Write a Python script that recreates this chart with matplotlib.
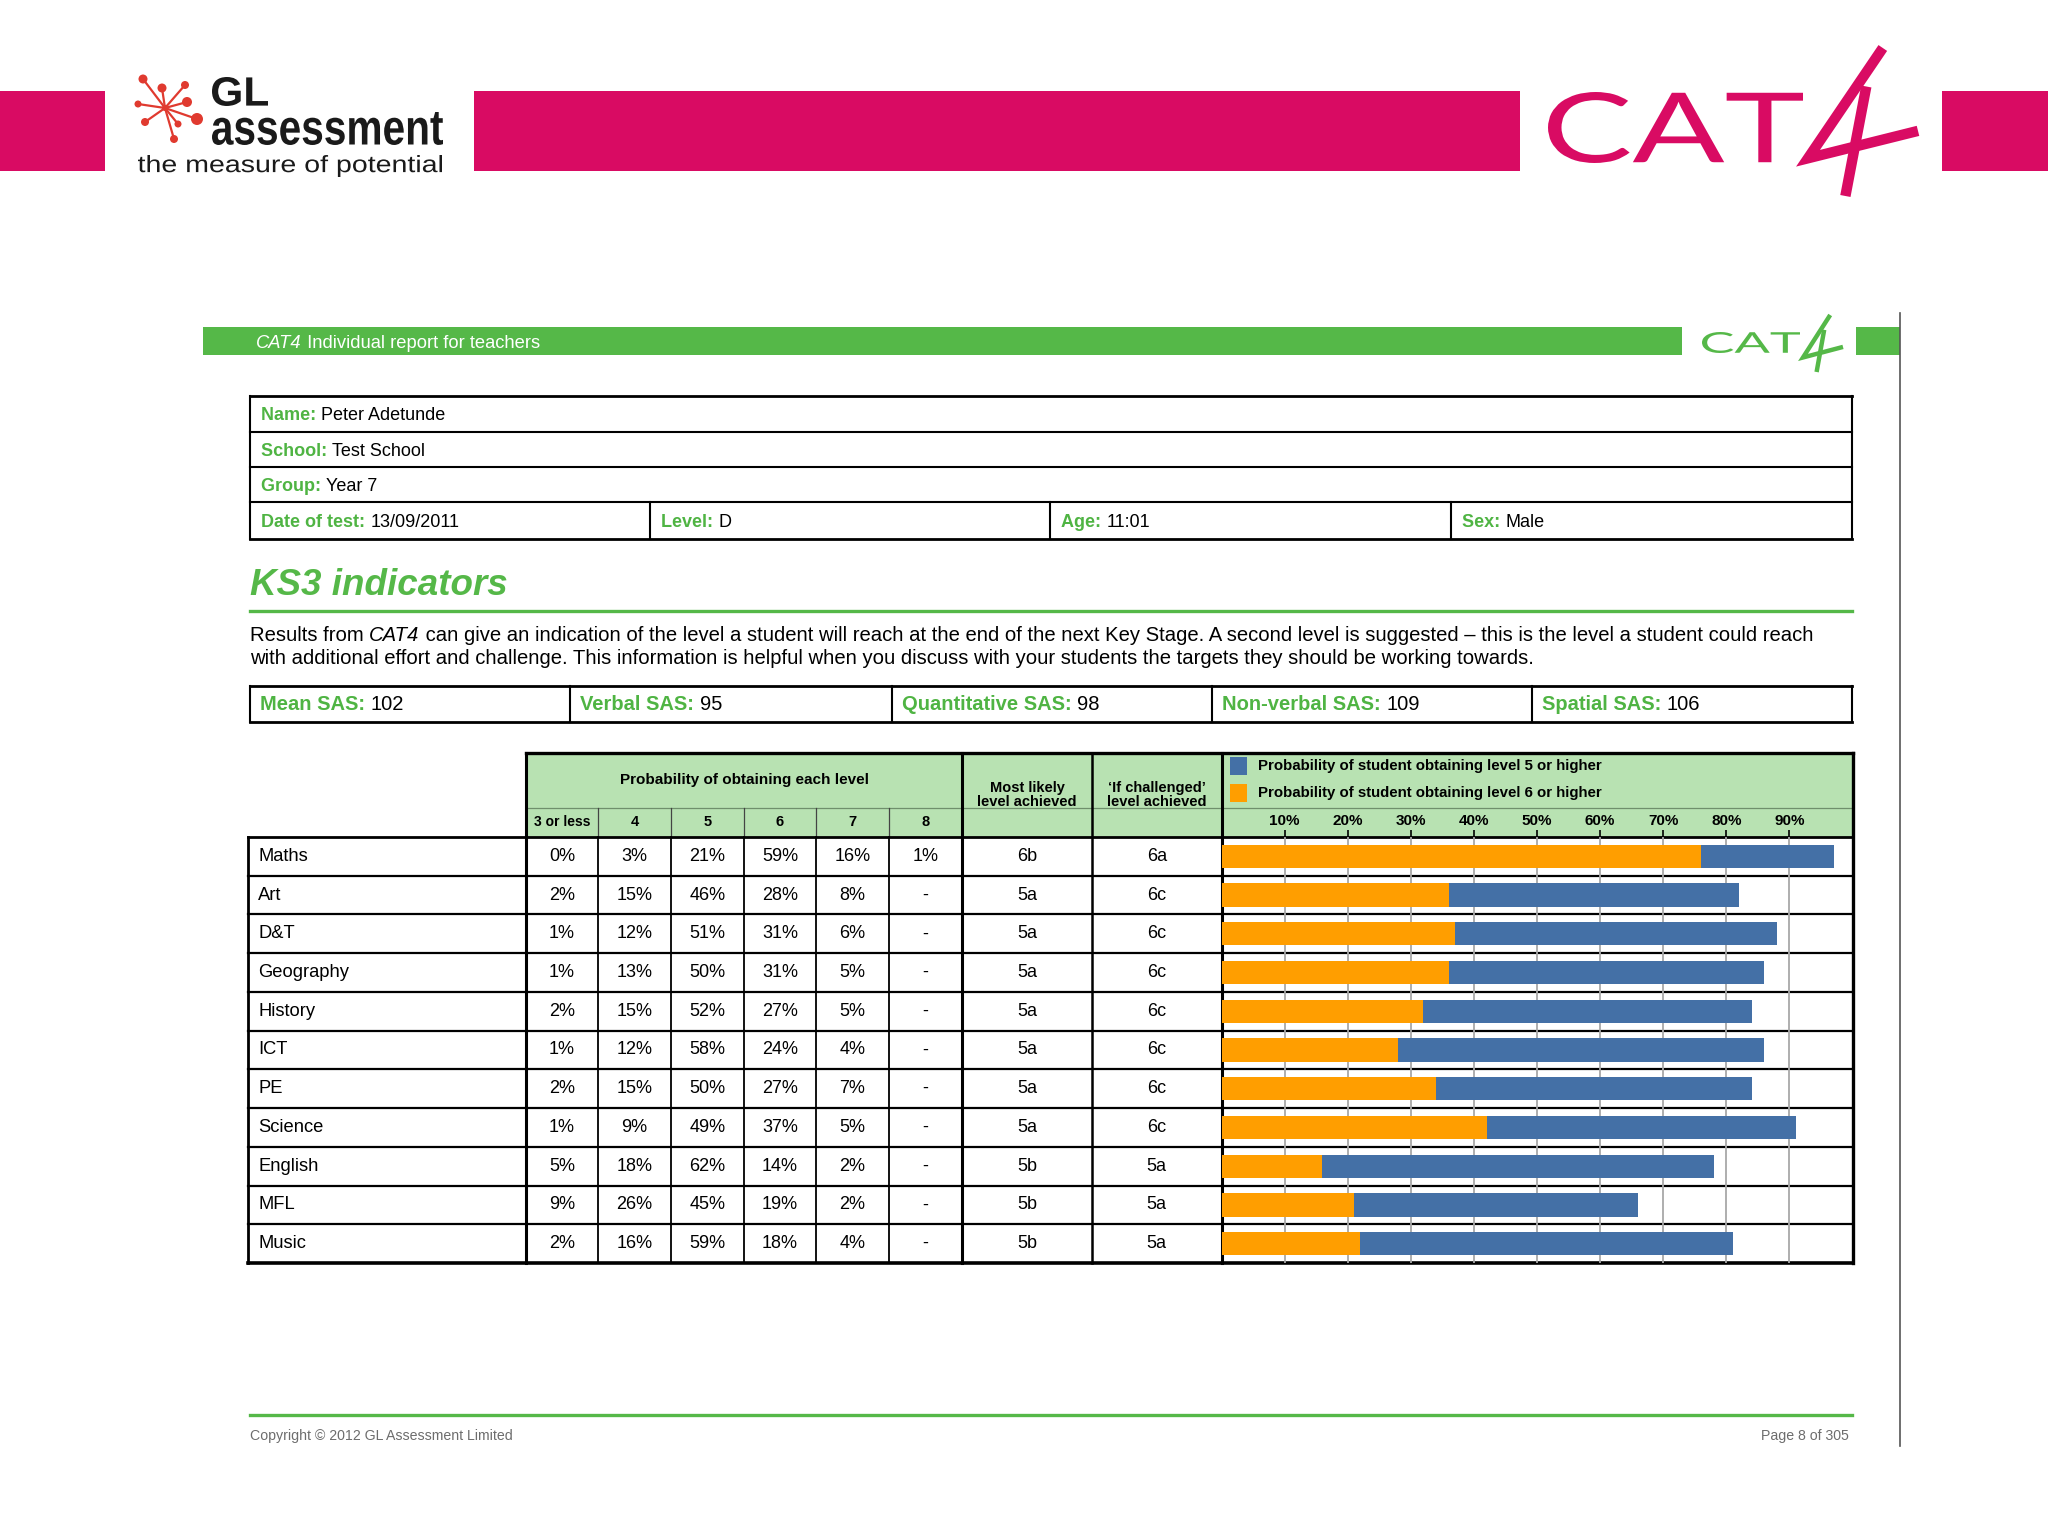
import matplotlib
matplotlib.use('Agg')
import matplotlib.pyplot as plt
from matplotlib.textpath import TextPath
from matplotlib.patches import PathPatch, Rectangle, Circle
from matplotlib.font_manager import FontProperties
from matplotlib.transforms import Affine2D
import numpy as np

plt.rcParams['font.family'] = ['Liberation Sans', 'DejaVu Sans']

# ---------------- data ----------------
student_name = 'Peter Adetunde'
school = 'Test School'
group = 'Year 7'
date_of_test = '13/09/2011'
level = 'D'
age = '11:01'
sex = 'Male'
sas_labels = ['Mean SAS:', 'Verbal SAS:', 'Quantitative SAS:', 'Non-verbal SAS:', 'Spatial SAS:']
sas_values = [102, 95, 98, 109, 106]

subjects = ['Maths', 'Art', 'D&T', 'Geography', 'History', 'ICT', 'PE', 'Science', 'English', 'MFL', 'Music']
level_cols = ['3 or less', '4', '5', '6', '7', '8']
p_3orless = [0, 2, 1, 1, 2, 1, 2, 1, 5, 9, 2]
p_4 = [3, 15, 12, 13, 15, 12, 15, 9, 18, 26, 16]
p_5 = [21, 46, 51, 50, 52, 58, 50, 49, 62, 45, 59]
p_6 = [59, 28, 31, 31, 27, 24, 27, 37, 14, 19, 18]
p_7 = [16, 8, 6, 5, 5, 4, 7, 5, 2, 2, 4]
p_8 = [1, None, None, None, None, None, None, None, None, None, None]
most_likely = ['6b', '5a', '5a', '5a', '5a', '5a', '5a', '5a', '5b', '5b', '5b']
if_challenged = ['6a', '6c', '6c', '6c', '6c', '6c', '6c', '6c', '5a', '5a', '5a']
level5_or_higher = [97, 82, 88, 86, 84, 86, 84, 91, 78, 66, 81]
level6_or_higher = [76, 36, 37, 36, 32, 28, 34, 42, 16, 21, 22]
axis_ticks = [10, 20, 30, 40, 50, 60, 70, 80, 90]

# ---------------- style ----------------
PINK = '#d90b63'
GREEN = '#55b848'
LGREEN = '#b8e2b2'
LBLGREEN = '#4fb443'
BLUE = '#4470a6'
ORANGE = '#ff9e00'
GRID = '#a8a8a8'

W, H = 2048, 1536
fig = plt.figure(figsize=(W / 100, H / 100), dpi=100)
bg = fig.add_axes([0, 0, 1, 1])
bg.set_xlim(0, W)
bg.set_ylim(H, 0)
bg.axis('off')
renderer = fig.canvas.get_renderer()


def text_w(s, **kw):
    t1 = bg.text(0, 0, 'x' + s + 'x', **kw)
    t2 = bg.text(0, 0, 'xx', **kw)
    w = t1.get_window_extent(renderer).width - t2.get_window_extent(renderer).width
    t1.remove(); t2.remove()
    return w


def rich(x, yc, parts, size, ha='left'):
    base = yc + 0.358 * size * 100 / 72
    if ha == 'right':
        total = sum(text_w(s, fontsize=size, **kw) for s, kw in parts)
        x -= total
    for s, kw in parts:
        bg.text(x, base, s, fontsize=size, va='baseline', ha='left', **kw)
        x += text_w(s, fontsize=size, **kw)


def line(x0, x1, y0, y1, lw, color='black', **kw):
    bg.plot([x0, x1], [y0, y1], color=color, lw=lw, solid_capstyle='projecting', **kw)


def rect(x0, y0, x1, y1, color, **kw):
    bg.add_patch(Rectangle((x0, y0), x1 - x0, y1 - y0, fc=color, ec='none', **kw))


def fit_text(s, x0, y0, x1, y1, color, prop):
    tp = TextPath((0, 0), s, size=100, prop=prop)
    bb = tp.get_extents()
    tr = (Affine2D().translate(-bb.x0, -bb.y0)
          .scale((x1 - x0) / bb.width, -(y1 - y0) / bb.height)
          .translate(x0, y1))
    bg.add_patch(PathPatch(tr.transform_path(tp), fc=color, ec='none'))


def draw_four(x0, y0, x1, y1, color, lw):
    # normalised "4" glyph strokes
    diag = [(0.68, 0.0), (0.0, 0.745), (1.0, 0.56)]
    stem = [(0.53, 0.26), (0.34, 1.0)]
    for pts in (diag, stem):
        xs = [x0 + px * (x1 - x0) for px, py in pts]
        ys = [y0 + py * (y1 - y0) for px, py in pts]
        bg.plot(xs, ys, color=color, lw=lw, solid_capstyle='butt', solid_joinstyle='miter')


# ---------------- page header ----------------
rect(0, 91, 105, 171, PINK)
rect(474, 91, 1520, 171, PINK)
rect(1942, 91, 2048, 171, PINK)

# GL logo asterisk
centre = (165, 108)
dots = [(143, 79, 4.5), (162, 88, 4.5), (185, 85, 4), (187, 102, 5), (197, 119, 6),
        (178, 124, 3.5), (174, 139, 4), (145, 122, 4), (138, 104, 3.5)]
for dx, dy, r in dots:
    bg.plot([centre[0], dx], [centre[1], dy], color='#e03a2f', lw=1.6)
    bg.add_patch(Circle((dx, dy), r, fc='#e03a2f', ec='none'))
bg.add_patch(Circle(centre, 3, fc='#e03a2f', ec='none'))
fp_bold = FontProperties(family=['Liberation Sans', 'DejaVu Sans'], weight='bold')
fp_reg = FontProperties(family=['Liberation Sans', 'DejaVu Sans'])
fit_text('GL', 212, 77, 268, 106, '#1a1a1a', fp_bold)
fit_text('assessment', 212, 112, 443, 145, '#1a1a1a', fp_bold)
fit_text('the measure of potential', 138, 155, 442, 177, '#1a1a1a', fp_reg)

# CAT4 logos
fp_logo = FontProperties(family=['Lato', 'DejaVu Sans'], weight='normal')
fit_text('CAT', 1548, 92, 1803, 163, PINK, fp_logo)
draw_four(1808, 48, 1918, 196, PINK, 7.5)

# report bar
rect(203, 327, 1682, 355, GREEN)
rect(1856, 327, 1900, 355, GREEN)
fit_text('CAT', 1702, 332, 1800, 353, GREEN, fp_logo)
draw_four(1803, 315, 1843, 372, GREEN, 3.2)
rich(256, 341, [('CAT4', dict(color='white', style='italic')),
                (' Individual report for teachers', dict(color='white'))], 13.2)
line(1900, 1900, 313, 1446, 1.2, color='#555555')

# ---------------- info box ----------------
rows_y = [396, 432, 467, 502, 539]
BX0, BX1 = 249.5, 1852
for i, yy in enumerate(rows_y):
    line(BX0, BX1, yy, yy, 2.0 if i in (0, 4) else 1.5)
line(BX0, BX0, rows_y[0], rows_y[-1], 1.5)
line(BX1, BX1, rows_y[0], rows_y[-1], 1.5)
for cx in (650, 1050, 1451):
    line(cx, cx, rows_y[3], rows_y[4], 1.5)
LB = dict(color=LBLGREEN, weight='bold')
VB = dict(color='black')
info_rows = [('Name: ', student_name), ('School: ', school), ('Group: ', group)]
for i, (lab, val) in enumerate(info_rows):
    rich(261, (rows_y[i] + rows_y[i + 1]) / 2, [(lab, LB), (val, VB)], 13)
last = [('Date of test: ', date_of_test), ('Level: ', level), ('Age: ', age), ('Sex: ', sex)]
for cx, (lab, val) in zip((261, 661, 1061, 1462), last):
    rich(cx, (rows_y[3] + rows_y[4]) / 2, [(lab, LB), (val, VB)], 13)

# ---------------- KS3 title & intro ----------------
rich(250, 582, [('KS3 indicators', dict(color=GREEN, weight='bold', style='italic'))], 26.5)
line(250, 1852, 611, 611, 2.4, color=GREEN)
rich(250, 634, [('Results from ', VB), ('CAT4', dict(color='black', style='italic')),
                (' can give an indication of the level a student will reach at the end of the next Key Stage. '
                 'A second level is suggested \u2013 this is the level a student could reach', VB)], 14.6)
rich(250, 657, [('with additional effort and challenge. This information is helpful when you discuss with '
                 'your students the targets they should be working towards.', VB)], 14.6)

# SAS box
sas_cols = [249.5, 570, 892, 1212, 1532, 1852]
SY0, SY1 = 686, 722
line(BX0, BX1, SY0, SY0, 2.0)
line(BX0, BX1, SY1, SY1, 2.0)
for cx in sas_cols:
    line(cx, cx, SY0, SY1, 1.5)
for i, (lab, val) in enumerate(zip(sas_labels, sas_values)):
    rich(sas_cols[i] + 10, 703, [(lab + ' ', LB), (str(val), VB)], 14.5)

# ---------------- main table ----------------
TY0, TY1, TY2 = 753, 808, 837
n = len(subjects)
RH = (1263 - TY2) / n
TB = TY2 + n * RH
LX0, LX1 = 248, 526
col_edges = [526, 598, 671, 744, 816, 889, 962]
ML = (962, 1092)
IC = (1092, 1221.5)
CX0, CX1 = 1221.5, 1852.5

rect(LX1, TY0, CX1, TY2, LGREEN)
# header texts
bg.text((col_edges[0] + col_edges[-1]) / 2, 780, 'Probability of obtaining each level',
        ha='center', va='center', fontsize=11, weight='bold')
for i, lab in enumerate(level_cols):
    bg.text((col_edges[i] + col_edges[i + 1]) / 2, 822, lab, ha='center', va='center',
            fontsize=10 if i == 0 else 10.5, weight='bold')
bg.text(sum(ML) / 2, 795, 'Most likely\nlevel achieved', ha='center', va='center',
        fontsize=10.5, weight='bold', linespacing=1.05)
bg.text(sum(IC) / 2, 795, '\u2018If challenged\u2019\nlevel achieved', ha='center', va='center',
        fontsize=10.5, weight='bold', linespacing=1.05)
# legend
rect(1230, 757, 1247, 775, BLUE)
rect(1230, 784, 1247, 802, ORANGE)
bg.text(1258, 766, 'Probability of student obtaining level 5 or higher', va='center', fontsize=10.8, weight='bold')
bg.text(1258, 793, 'Probability of student obtaining level 6 or higher', va='center', fontsize=10.8, weight='bold')

# table cells
cols_data = [p_3orless, p_4, p_5, p_6, p_7, p_8]
for r in range(n):
    yc = TY2 + (r + 0.5) * RH
    bg.text(258, yc, subjects[r], va='center', ha='left', fontsize=13.2)
    for c, arr in enumerate(cols_data):
        v = arr[r]
        s = '-' if v is None else f'{v}%'
        bg.text((col_edges[c] + col_edges[c + 1]) / 2, yc, s, ha='center', va='center', fontsize=13)
    bg.text(sum(ML) / 2, yc, most_likely[r], ha='center', va='center', fontsize=13)
    bg.text(sum(IC) / 2, yc, if_challenged[r], ha='center', va='center', fontsize=13)

# table lines
line(col_edges[0], CX1, TY1, TY1, 0.9, color='#6f8f6c')
for cx in col_edges[1:-1]:
    line(cx, cx, TY1, TY2, 0.9, color='#444444')
    line(cx, cx, TY2, TB, 1.3)
for r in range(1, n):
    yy = TY2 + r * RH
    line(LX0, CX1, yy, yy, 1.6)
line(LX0, CX1, TY2, TY2, 2.0)
line(LX0, LX0, TY2, TB, 2.0)
line(col_edges[0], CX1, TY0, TY0, 2.4)
line(col_edges[0], col_edges[0], TY0, TB, 2.2)
line(ML[0], ML[0], TY0, TB, 2.2)
line(IC[0], IC[0], TY0, TB, 1.8)
line(CX0, CX0, TY0, TB, 2.2)
line(CX1, CX1, TY0, TB, 2.4)
line(LX0, CX1, TB, TB, 2.6)

# ---------------- bar chart ----------------
ax = fig.add_axes([CX0 / W, 1 - TB / H, (CX1 - CX0) / W, (TB - TY2) / H])
ax.patch.set_alpha(0)
ax.set_xlim(0, 100)
ax.set_ylim(n - 0.5, -0.5)
yy = np.arange(n)
ax.barh(yy, level5_or_higher, height=0.6, color=BLUE, zorder=3)
ax.barh(yy, level6_or_higher, height=0.6, color=ORANGE, zorder=4)
ax.set_xticks(axis_ticks)
ax.set_xticklabels([f'{t}%' for t in axis_ticks], fontsize=11, fontweight='bold')
ax.xaxis.tick_top()
ax.tick_params(axis='x', direction='out', length=5, width=1.2, pad=1.5, colors='black')
ax.set_yticks([])
ax.grid(axis='x', color=GRID, lw=1.3, zorder=1)
ax.set_axisbelow(True)
for sp in ax.spines.values():
    sp.set_visible(False)

# ---------------- footer ----------------
line(250, 1852, 1415, 1415, 2.4, color=GREEN)
rich(250, 1435, [('Copyright \u00a9 2012 GL Assessment Limited', dict(color='#6d6d6d'))], 10.2)
rich(1849, 1435, [('Page 8 of 305', dict(color='#6d6d6d'))], 10.2, ha='right')

fig.savefig('out.png', dpi=100)
